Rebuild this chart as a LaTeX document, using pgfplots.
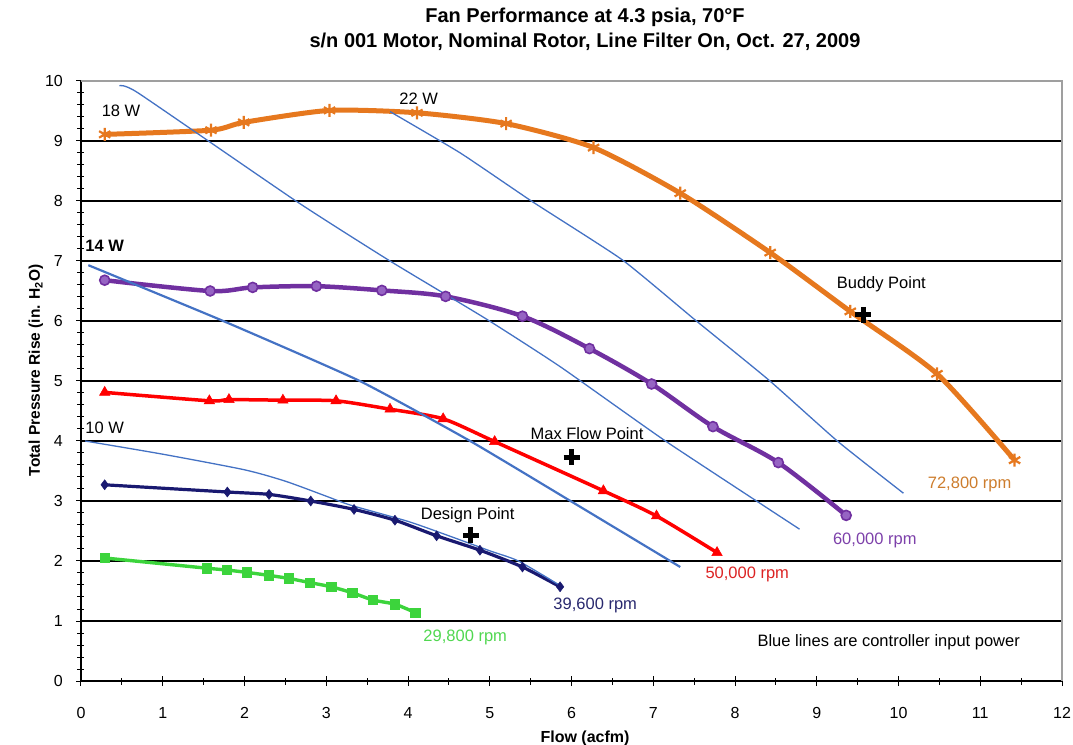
\documentclass[border=0pt]{standalone}
\usepackage{fontspec}
\setmainfont{Liberation Sans}
\usepackage{pgfplots}
\pgfplotsset{compat=1.18}
\definecolor{corange}{RGB}{230,120,30}
\definecolor{corangelab}{RGB}{205,125,45}
\definecolor{cpurple}{RGB}{112,48,160}
\definecolor{cpurplefill}{RGB}{150,100,195}
\definecolor{cpurplelab}{RGB}{125,65,170}
\definecolor{cred}{RGB}{255,0,0}
\definecolor{credlab}{RGB}{220,35,35}
\definecolor{cnavy}{RGB}{25,25,112}
\definecolor{cnavylab}{RGB}{40,40,110}
\definecolor{cgreen}{RGB}{60,212,60}
\definecolor{cgreenlab}{RGB}{80,215,80}
\definecolor{cblue}{RGB}{68,114,196}
\newcommand{\lab}{\fontsize{16.5}{19}\selectfont}
\begin{document}
\begin{tikzpicture}
\begin{axis}[
  name=ax,
  scale only axis, width=981pt, height=600pt,
  xmin=0, xmax=12, ymin=0, ymax=10,
  xtick={0,1,...,12}, ytick={0,1,...,10},
  minor x tick num=1, minor y tick num=4,
  axis x line*=bottom, axis y line*=left,
  x axis line style={line width=2pt,-},
  y axis line style={line width=1.5pt,-},
  ymajorgrids, major grid style={black, line width=1.3pt},
  tick align=center,
  major tick length=10pt, minor tick length=7pt,
  tick style={black, line width=1pt},
  /pgf/number format/assume math mode=true,
  ticklabel style={font=\fontsize{16}{16}\selectfont},
  xticklabel style={anchor=base, inner sep=0pt, yshift=-32pt},
  yticklabel style={anchor=east, inner sep=0pt, xshift=-13pt},
  xlabel={Flow (acfm)},
  xlabel style={font=\bfseries\fontsize{16}{16}\selectfont, at={(axis description cs:0.5138,0)}, anchor=base, yshift=-61pt},
  ylabel={Total Pressure Rise (in. H\textsubscript{2}O)},
  ylabel style={font=\bfseries\fontsize{15.5}{16}\selectfont, at={(axis description cs:-0.0459,0.518)}, anchor=center},
]
% 72,800 rpm
\addplot[corange, line width=5pt, smooth, tension=0.4, mark=asterisk, mark size=6.5pt, mark options={line width=2.2pt, solid}]
coordinates {(0.29,9.11) (1.59,9.18) (1.99,9.31) (3.04,9.51) (4.11,9.47) (5.20,9.29) (6.27,8.89) (7.33,8.13) (8.43,7.14) (9.41,6.16) (10.47,5.12) (11.42,3.68)};
% 60,000 rpm
\addplot[cpurple, line width=4.5pt, smooth, tension=0.5, mark=*, mark size=5pt, mark options={line width=1.6pt, fill=cpurplefill, draw=cpurple}]
coordinates {(0.29,6.68) (1.58,6.50) (2.10,6.56) (2.88,6.58) (3.68,6.51) (4.46,6.41) (5.40,6.08) (6.22,5.54) (6.98,4.95) (7.73,4.24) (8.53,3.64) (9.36,2.76)};
% 50,000 rpm
\addplot[cred, line width=3.5pt, smooth, tension=0.4, mark=triangle*, mark size=6pt, mark options={line width=0.5pt}]
coordinates {(0.29,4.81) (1.57,4.67) (1.81,4.69) (2.47,4.68) (3.12,4.67) (3.78,4.53) (4.43,4.37) (5.06,3.99) (6.39,3.17) (7.04,2.75) (7.78,2.14)};
% 39,600 rpm
\addplot[cnavy, line width=3.2pt, smooth, tension=0.4, mark=diamond*, mark size=5pt, mark options={line width=0.5pt}]
coordinates {(0.29,3.27) (1.79,3.15) (2.30,3.11) (2.81,3.00) (3.34,2.86) (3.84,2.68) (4.35,2.42) (4.88,2.18) (5.40,1.90) (5.86,1.57)};
% 29,800 rpm
\addplot[cgreen, line width=3.4pt, smooth, tension=0.4, mark=square*, mark size=4.7pt, mark options={line width=0.5pt}]
coordinates {(0.29,2.05) (1.54,1.88) (1.78,1.85) (2.03,1.81) (2.30,1.76) (2.54,1.71) (2.80,1.64) (3.06,1.57) (3.32,1.47) (3.57,1.35) (3.84,1.28) (4.09,1.14)};
% controller input power lines
\addplot[cblue, line width=1.3pt, smooth, tension=0.3, no marks]
coordinates {(0.47,9.92) (0.7,9.80) (2.64,7.99) (3.78,7.0) (4.95,6.04) (5.86,5.24) (7.16,3.99) (8.79,2.53)};
\addplot[cblue, line width=1.3pt, smooth, tension=0.3, no marks]
coordinates {(3.78,9.49) (4.64,8.80) (5.52,7.99) (6.62,7.02) (7.51,6.02) (8.41,5.02) (9.26,3.99) (10.06,3.13)};
\addplot[cblue, line width=2.2pt, smooth, tension=0.3, no marks]
coordinates {(0.09,6.93) (1.74,6.0) (3.41,5.0) (4.76,4.0) (6.0,2.99) (7.33,1.9)};
\addplot[cblue, line width=1.3pt, smooth, tension=0.4, no marks]
coordinates {(0.05,4.0) (1.0,3.78) (2.0,3.52) (2.5,3.33) (3.0,3.08) (3.3,2.93) (4.0,2.66) (4.5,2.42) (5.0,2.17) (5.35,2.0) (5.85,1.6)};
% operating points
\addplot[only marks, black, mark=+, mark size=8pt, mark options={line width=5pt}]
coordinates {(4.77,2.43) (6.0,3.73) (9.57,6.10)};
% annotations
\node[font=\lab, inner sep=0pt] at (axis cs:0.49,9.5) {18 W};
\node[font=\lab, inner sep=0pt] at (axis cs:4.13,9.7) {22 W};
\node[font=\lab\bfseries, inner sep=0pt] at (axis cs:0.29,7.25) {14 W};
\node[font=\lab, inner sep=0pt] at (axis cs:0.29,4.22) {10 W};
\node[font=\lab, inner sep=0pt] at (axis cs:9.79,6.61) {Buddy Point};
\node[font=\lab, inner sep=0pt] at (axis cs:6.19,4.13) {Max Flow Point};
\node[font=\lab, inner sep=0pt] at (axis cs:4.73,2.76) {Design Point};
\node[font=\lab, inner sep=0pt, text=corangelab] at (axis cs:10.87,3.28) {72,800 rpm};
\node[font=\lab, inner sep=0pt, text=cpurplelab] at (axis cs:9.71,2.35) {60,000 rpm};
\node[font=\lab, inner sep=0pt, text=credlab] at (axis cs:8.15,1.78) {50,000 rpm};
\node[font=\lab, inner sep=0pt, text=cnavylab] at (axis cs:6.29,1.26) {39,600 rpm};
\node[font=\lab, inner sep=0pt, text=cgreenlab] at (axis cs:4.70,0.73) {29,800 rpm};
\node[font=\lab, inner sep=0pt] at (axis cs:9.88,0.65) {Blue lines are controller input power};
\end{axis}
\draw[gray!75, line width=1.8pt] (ax.north west) -- (ax.north east) -- (ax.south east);
\node[anchor=base, font=\bfseries\fontsize{20}{21}\selectfont, inner sep=0pt] at ([xshift=504pt,yshift=58pt]ax.north west) {Fan Performance at 4.3 psia, 70°F};
\node[anchor=base, font=\bfseries\fontsize{20}{21}\selectfont, inner sep=0pt] at ([xshift=504pt,yshift=33pt]ax.north west) {s/n 001 Motor, Nominal Rotor, Line Filter On, Oct. 27, 2009};
\pgfresetboundingbox
\path ([xshift=-81pt,yshift=-63pt]ax.south west) rectangle ([xshift=11pt,yshift=81pt]ax.north east);
\end{tikzpicture}
\end{document}
